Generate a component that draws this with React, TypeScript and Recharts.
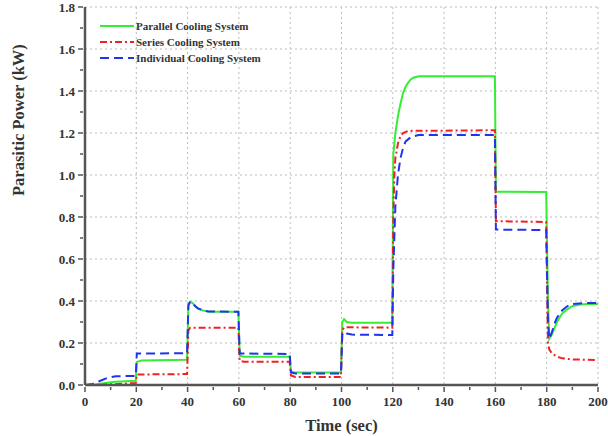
import { LineChart, Line, XAxis, YAxis, CartesianGrid } from "recharts";

const parallelTime = [0, 4, 8, 12, 16, 19.8, 20.2, 22, 39.8, 40.3, 41, 42, 43, 44, 46, 48, 50, 59.8, 60.3, 62, 79.8, 80.3, 82, 99.8, 100.3, 101, 102, 104, 119.8, 120.2, 121, 122, 123, 124, 125, 126, 127, 128, 130, 159.8, 160.2, 179.8, 180.5, 181, 182, 183, 184, 185, 186, 188, 190, 193, 196, 200];
const parallelPower = [0, 0.002, 0.01, 0.015, 0.018, 0.02, 0.11, 0.117, 0.12, 0.38, 0.397, 0.39, 0.375, 0.365, 0.355, 0.35, 0.349, 0.349, 0.14, 0.135, 0.135, 0.065, 0.059, 0.059, 0.3, 0.314, 0.3, 0.297, 0.297, 1.1, 1.2, 1.28, 1.34, 1.39, 1.42, 1.44, 1.455, 1.463, 1.47, 1.47, 0.92, 0.919, 0.4, 0.22, 0.24, 0.27, 0.3, 0.32, 0.34, 0.36, 0.375, 0.383, 0.386, 0.386];

const seriesTime = [0, 5, 10, 15, 19.8, 20.2, 39.8, 40.3, 41, 59.8, 60.3, 62, 79.8, 80.3, 82, 99.8, 100.3, 101, 119.8, 120.2, 120.6, 121, 122, 123, 124, 126, 159.8, 160.2, 179.8, 180.5, 181, 182, 184, 186, 190, 200];
const seriesPower = [0, 0, 0.003, 0.006, 0.01, 0.05, 0.052, 0.26, 0.273, 0.273, 0.115, 0.111, 0.111, 0.045, 0.038, 0.038, 0.26, 0.275, 0.273, 0.8, 1.0, 1.08, 1.15, 1.185, 1.2, 1.21, 1.213, 0.78, 0.776, 0.2, 0.17, 0.15, 0.135, 0.127, 0.122, 0.119];

const individualTime = [0, 3, 6, 9, 12, 19.8, 20.2, 39.8, 40.3, 41, 42, 43, 44, 46, 48, 59.8, 60.3, 79.8, 80.3, 82, 99.8, 100.3, 101, 102, 104, 119.8, 120.2, 121, 122, 123, 124, 125, 127, 130, 159.8, 160.2, 179.8, 180.5, 181, 182, 183, 184, 186, 188, 190, 195, 200];
const individualPower = [0, 0.005, 0.02, 0.035, 0.042, 0.043, 0.15, 0.151, 0.38, 0.397, 0.39, 0.375, 0.365, 0.355, 0.35, 0.349, 0.15, 0.148, 0.06, 0.055, 0.055, 0.24, 0.254, 0.245, 0.24, 0.238, 0.55, 0.85, 1.0, 1.08, 1.13, 1.16, 1.18, 1.19, 1.19, 0.74, 0.738, 0.3, 0.22, 0.25, 0.29, 0.32, 0.355, 0.375, 0.385, 0.39, 0.39];

const xTicks = [0, 10, 20, 30, 40, 50, 60, 70, 80, 90, 100, 110, 120, 130, 140, 150, 160, 170, 180, 190, 200];
const yTicks = [0, 0.1, 0.2, 0.3, 0.4, 0.5, 0.6, 0.7, 0.8, 0.9, 1.0, 1.1, 1.2, 1.3, 1.4, 1.5, 1.6, 1.7, 1.8];
const xMajor = [0, 20, 40, 60, 80, 100, 120, 140, 160, 180, 200];
const yMajor = [0, 0.2, 0.4, 0.6, 0.8, 1.0, 1.2, 1.4, 1.6, 1.8];
const xMax = 200;
const yMax = 1.8;

const toRows = (t: number[], p: number[]) => t.map((x, i) => ({ t: x, p: p[i] }));
const parallelData = toRows(parallelTime, parallelPower);
const seriesData = toRows(seriesTime, seriesPower);
const individualData = toRows(individualTime, individualPower);

const font = "'Liberation Serif', 'Times New Roman', serif";

const isMajorY = (v: number) => yMajor.some((m) => Math.abs(m - v) < 1e-6);

// grid only at major ticks; use axis scale if we get one, else plot offset
const vGrid = ({ xAxis, offset }: any) =>
  xMajor.map((v) =>
    typeof xAxis?.scale === "function" ? xAxis.scale(v) : offset.left + (offset.width * v) / xMax
  );
const hGrid = ({ yAxis, offset }: any) =>
  yMajor.map((v) =>
    typeof yAxis?.scale === "function" ? yAxis.scale(v) : offset.top + offset.height * (1 - v / yMax)
  );

const XTick = ({ x, y, payload }: any) => {
  const major = xMajor.includes(payload.value);
  return (
    <g>
      <line x1={x} y1={y - 5} x2={x} y2={y - 5 + (major ? 5 : 3)} stroke="#555" strokeWidth={1.5} />
      {major && (
        <text x={x} y={y + 14} textAnchor="middle" fontFamily={font} fontWeight="bold" fontSize={13} fill="#333">
          {payload.value}
        </text>
      )}
    </g>
  );
};

const YTick = ({ x, y, payload }: any) => {
  const major = isMajorY(payload.value);
  return (
    <g>
      <line x1={x + 5} y1={y} x2={x + 5 - (major ? 5 : 3)} y2={y} stroke="#555" strokeWidth={1.5} />
      {major && (
        <text x={x - 3} y={y + 4.5} textAnchor="end" fontFamily={font} fontWeight="bold" fontSize={13} fill="#333">
          {payload.value.toFixed(1)}
        </text>
      )}
    </g>
  );
};

const legendItems = [
  { name: "Parallel Cooling System", color: "#33ee33", dash: "" },
  { name: "Series Cooling System", color: "#ee2222", dash: "7 3 2 3" },
  { name: "Individual Cooling System", color: "#2233ee", dash: "9 5" },
];

export default function App() {
  return (
    <div style={{ position: "absolute", left: 0, top: 0, width: 608, height: 436, background: "#fff" }}>
      <LineChart width={608} height={436} margin={{ top: 7, right: 10, bottom: 21, left: 25 }}>
        <CartesianGrid
          xAxisId="b"
          yAxisId="l"
          stroke="#bbb"
          strokeDasharray="2 3"
          verticalCoordinatesGenerator={vGrid}
          horizontalCoordinatesGenerator={hGrid}
        />
        <XAxis
          xAxisId="b"
          type="number"
          dataKey="t"
          domain={[0, xMax]}
          ticks={xTicks}
          tick={<XTick />}
          tickLine={false}
          tickSize={5}
          interval={0}
          height={30}
          stroke="#555"
          strokeWidth={2.5}
          label={{ value: "Time (sec)", position: "insideBottom", offset: -16, fontFamily: font, fontWeight: "bold", fontSize: 16.5, fill: "#333" }}
        />
        <XAxis xAxisId="top" orientation="top" type="number" domain={[0, xMax]} tick={false} tickLine={false} height={0} stroke="#777" strokeWidth={1.5} />
        <YAxis
          yAxisId="l"
          type="number"
          domain={[0, yMax]}
          ticks={yTicks}
          tick={<YTick />}
          tickLine={false}
          tickSize={5}
          interval={0}
          width={60}
          stroke="#555"
          strokeWidth={2.5}
          label={{ value: "Parasitic Power (kW)", angle: -90, position: "insideLeft", offset: -7, fontFamily: font, fontWeight: "bold", fontSize: 16.5, fill: "#333" }}
        />
        <YAxis yAxisId="r" orientation="right" type="number" domain={[0, yMax]} tick={false} tickLine={false} width={0} stroke="#666" strokeWidth={2} />
        <Line xAxisId="b" yAxisId="l" data={parallelData} dataKey="p" name="Parallel Cooling System" stroke="#33ee33" strokeWidth={2} dot={false} isAnimationActive={false} />
        <Line xAxisId="b" yAxisId="l" data={seriesData} dataKey="p" name="Series Cooling System" stroke="#ee2222" strokeWidth={2} strokeDasharray="7 3 2 3" dot={false} isAnimationActive={false} />
        <Line xAxisId="b" yAxisId="l" data={individualData} dataKey="p" name="Individual Cooling System" stroke="#2233ee" strokeWidth={2} strokeDasharray="9 5" dot={false} isAnimationActive={false} />
      </LineChart>
      {/* legend drawn outside recharts so it doesn't eat plot space */}
      <div style={{ position: "absolute", left: 100, top: 18, fontFamily: font, fontWeight: "bold", fontSize: 11, color: "#333", lineHeight: "16px" }}>
        {legendItems.map((it) => (
          <div key={it.name} style={{ display: "flex", alignItems: "center", height: 16 }}>
            <svg width={34} height={6}>
              <line x1={0} y1={3} x2={34} y2={3} stroke={it.color} strokeWidth={2} strokeDasharray={it.dash} />
            </svg>
            <span style={{ marginLeft: 2 }}>{it.name}</span>
          </div>
        ))}
      </div>
    </div>
  );
}
